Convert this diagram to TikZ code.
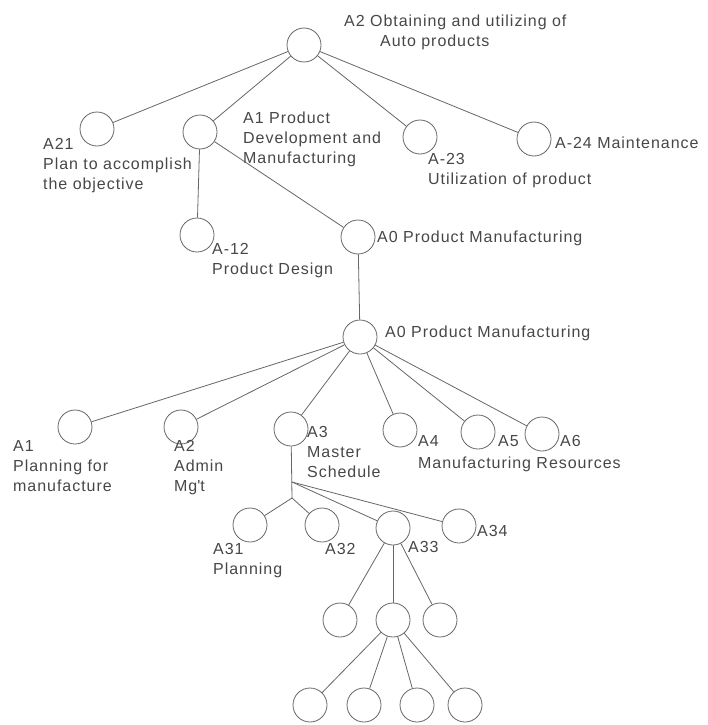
\documentclass[tikz,border=0pt]{standalone}
\usepackage{fontspec}
\setmainfont{Liberation Sans}[LetterSpace=6]
\begin{document}
\begin{tikzpicture}[x=1pt,y=-1pt,
  circ/.style={circle, draw=black!60, line width=0.8pt, minimum size=34pt, inner sep=0pt},
  link/.style={draw=black!60, line width=0.8pt},
  lbl/.style={font=\fontsize{16}{20}\selectfont, text=black!72, inner sep=0pt, align=left, anchor=north west}]
\useasboundingbox (0,0) rectangle (708,725);

% tree nodes
\node[circ] (t)   at (304,45)  {};
\node[circ] (a21) at (97,129)  {};
\node[circ] (a1)  at (200,132) {};
\node[circ] (a23) at (420,137) {};
\node[circ] (a24) at (534,139) {};
\node[circ] (a12) at (197,235) {};
\node[circ] (a0u) at (358,237) {};
\node[circ] (a0)  at (360,337) {};
\node[circ] (b1)  at (75,427)  {};
\node[circ] (b2)  at (181,427) {};
\node[circ] (b3)  at (291,429) {};
\node[circ] (b4)  at (400,430) {};
\node[circ] (b5)  at (478,432) {};
\node[circ] (b6)  at (542,434) {};
\node[circ] (c1)  at (250,525) {};
\node[circ] (c2)  at (322,525) {};
\node[circ] (c3)  at (393,528) {};
\node[circ] (c4)  at (459,526) {};
\node[circ] (d1)  at (340,620) {};
\node[circ] (d2)  at (393,620) {};
\node[circ] (d3)  at (440,620) {};
\node[circ] (e1)  at (310,705) {};
\node[circ] (e2)  at (364,705) {};
\node[circ] (e3)  at (417,705) {};
\node[circ] (e4)  at (465,705) {};
\coordinate (j1) at (292,482);
\coordinate (j2) at (292,498);

% connectors
\draw[link] (t) -- (a21);
\draw[link] (t) -- (a1);
\draw[link] (t) -- (a23);
\draw[link] (t) -- (a24);
\draw[link] (a1) -- (a12);
\draw[link] (a1) -- (a0u);
\draw[link] (a0u) -- (a0);
\foreach \n in {b1,b2,b3,b4,b5,b6} \draw[link] (a0) -- (\n);
\draw[link] (b3) -- (j2);
\draw[link] (j2) -- (c1);
\draw[link] (j2) -- (c2);
\draw[link] (j1) -- (c3);
\draw[link] (j1) -- (c4);
\foreach \n in {d1,d2,d3} \draw[link] (c3) -- (\n);
\foreach \n in {e1,e2,e3,e4} \draw[link] (d2) -- (\n);

% labels (top edge = first baseline - 11.5)
\node[lbl] (lt)   at (344,14.5)  {A2 Obtaining and utilizing of\\\hspace*{36pt}Auto products};
\node[lbl] (la21) at (43,138.5)  {A21\\Plan to accomplish\\the objective};
\node[lbl] (la1)  at (243,111.5) {A1 Product\\Development and\\Manufacturing};
\node[lbl] (la23) at (428,153.5) {A-23\\Utilization of product};
\node[lbl] (la24) at (555,136.5) {A-24 Maintenance};
\node[lbl] (la12) at (212,243.5) {A-12\\Product Design};
\node[lbl] (la0u) at (377,230.5) {A0 Product Manufacturing};
\node[lbl] (la0)  at (385,325.5) {A0 Product Manufacturing};
\node[lbl] (lb1)  at (13,440.5)  {A1\\Planning for\\manufacture};
\node[lbl] (lb2)  at (174,440.5) {A2\\Admin\\Mg\textquotesingle t};
\node[lbl] (lb3)  at (307,426.5) {A3\\Master\\Schedule};
\node[lbl] (lb4)  at (418,435.5) {A4};
\node[lbl] (lb5)  at (498,435.5) {A5};
\node[lbl] (lb6)  at (560,435.5) {A6};
\node[lbl] (lres) at (418,456.5) {Manufacturing Resources};
\node[lbl] (lc1)  at (213,543.5) {A31\\Planning};
\node[lbl] (lc2)  at (325,543.5) {A32};
\node[lbl] (lc3)  at (408,541.5) {A33};
\node[lbl] (lc4)  at (477,525.5) {A34};
\end{tikzpicture}
\end{document}
